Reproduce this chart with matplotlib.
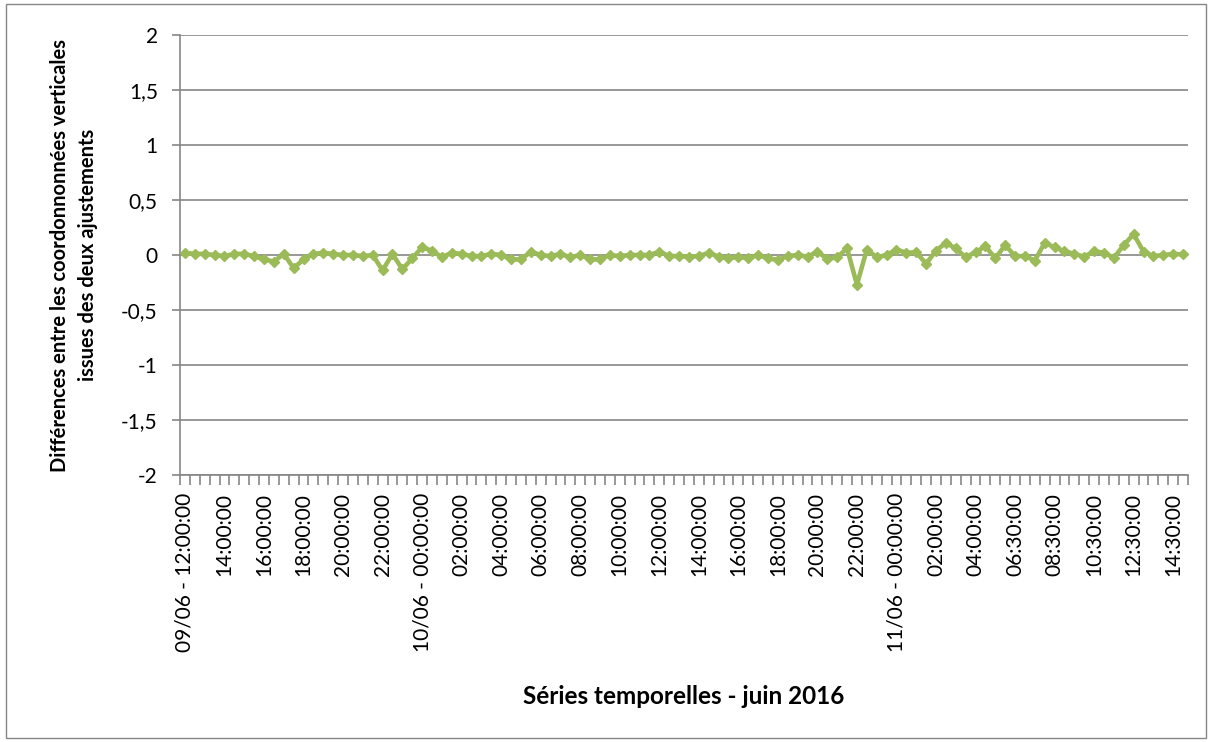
import matplotlib
matplotlib.use("Agg")
import matplotlib.pyplot as plt
from matplotlib.patches import Rectangle
import numpy as np

# Differences (one value per half-hour category)
values = [
    0.02, 0.01, 0.01, 0.0, -0.01, 0.01, 0.01, -0.01, -0.04, -0.06,
    0.01, -0.12, -0.04, 0.01, 0.02, 0.01, 0.0, 0.0, -0.01, 0.0,
    -0.14, 0.01, -0.13, -0.03, 0.07, 0.04, -0.02, 0.02, 0.01, -0.01,
    -0.01, 0.01, 0.0, -0.04, -0.04, 0.03, 0.0, -0.01, 0.01, -0.02,
    0.0, -0.04, -0.04, 0.0, -0.01, 0.0, 0.0, 0.0, 0.03, -0.01,
    -0.01, -0.015, -0.01, 0.02, -0.015, -0.03, -0.015, -0.03, 0.0, -0.03,
    -0.045, -0.01, 0.0, -0.015, 0.03, -0.035, -0.02, 0.06, -0.27, 0.05,
    -0.02, 0.0, 0.05, 0.02, 0.025, -0.08, 0.04, 0.11, 0.06, -0.02,
    0.025, 0.08, -0.03, 0.09, -0.01, -0.01, -0.05, 0.11, 0.07, 0.035,
    0.01, -0.015, 0.035, 0.02, -0.025, 0.09, 0.19, 0.03, -0.01, 0.0,
    0.01, 0.005,
]

# Tick labels, shown every 4th category
tick_labels = [
    "09/06 - 12:00:00", "14:00:00", "16:00:00", "18:00:00", "20:00:00", "22:00:00",
    "10/06 - 00:00:00", "02:00:00", "04:00:00", "06:00:00", "08:00:00", "10:00:00",
    "12:00:00", "14:00:00", "16:00:00", "18:00:00", "20:00:00", "22:00:00",
    "11/06 - 00:00:00", "02:00:00", "04:00:00", "06:30:00", "08:30:00", "10:30:00",
    "12:30:00", "14:30:00",
]
label_step = 4

y_ticks = [-2, -1.5, -1, -0.5, 0, 0.5, 1, 1.5, 2]

x_title = "Séries temporelles - juin 2016"
y_title = "Différences entre les coordonnonnées verticales\nissues des deux ajustements"

plt.rcParams['font.family'] = ['Lato', 'DejaVu Sans']

W, H = 1212, 742
fig = plt.figure(figsize=(W / 100, H / 100), dpi=100)
fig.patch.set_facecolor("white")
ax = fig.add_axes([180 / W, 1 - 475 / H, 1008 / W, 440 / H])

grey = "#868686"
green = "#9BBB59"

n = len(values)
x = np.arange(n)
ax.plot(x, values, color=green, lw=3.3, marker="D", ms=5.5,
        markerfacecolor=green, markeredgecolor=green, zorder=3, clip_on=False)

ax.set_xlim(-0.5, n - 0.5)
ax.set_ylim(-2, 2)

# y axis
ax.set_yticks(y_ticks)
ax.set_yticklabels([("%g" % v).replace(".", ",") for v in y_ticks], fontsize=15)
ax.yaxis.grid(True, color=grey, lw=1.2)
ax.set_axisbelow(True)
ax.tick_params(axis="y", length=6, width=1.2, color=grey, pad=10)

# x axis: boundary ticks as major, labels as minor
ax.set_xticks(np.arange(n + 1) - 0.5)
ax.set_xticklabels([])
ax.tick_params(axis="x", which="major", length=7, width=1.2, color=grey)
ax.set_xticks(np.arange(0, n, label_step), minor=True)
ax.set_xticklabels(tick_labels, minor=True, rotation=90, fontsize=15, va="top", ha="center")
ax.tick_params(axis="x", which="minor", length=0, pad=13)

for s in ["top", "right"]:
    ax.spines[s].set_visible(False)
for s in ["left", "bottom"]:
    ax.spines[s].set_color(grey)
    ax.spines[s].set_linewidth(1.2)

fig.text(684 / W, 1 - 697 / H, x_title, fontsize=17.5, fontweight="bold",
         ha="center", va="center")
ax.set_ylabel(y_title, fontsize=14.5, fontweight="bold", labelpad=17, linespacing=1.45)

# chart border
fig.patches.append(Rectangle((6 / W, 4 / H), 1200 / W, 734 / H, transform=fig.transFigure,
                             fill=False, edgecolor=grey, lw=1.0))

fig.savefig("out.png", dpi=100)
